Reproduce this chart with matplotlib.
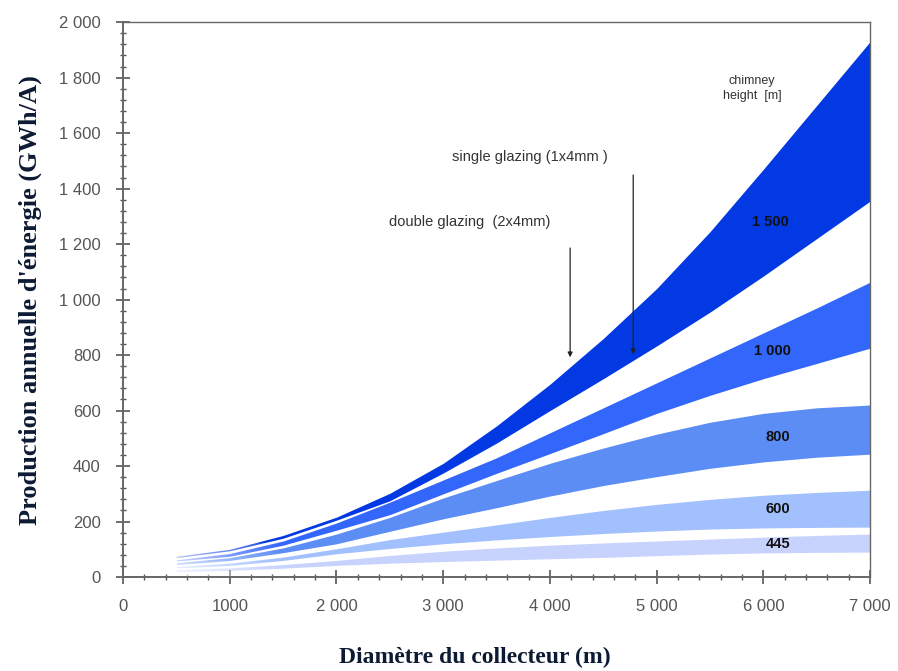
import matplotlib
matplotlib.use("Agg")
import matplotlib.pyplot as plt
import numpy as np
from matplotlib.ticker import MultipleLocator, FixedLocator

# collector diameter (m)
diameter = [500, 1000, 1500, 2000, 2500, 3000, 3500, 4000, 4500, 5000, 5500, 6000, 6500, 7000]

# annual energy (GWh/A) - upper edge = double glazing, lower edge = single glazing
h1500_up = [75, 100, 150, 216, 302, 410, 545, 695, 860, 1040, 1245, 1470, 1700, 1930]
h1500_lo = [70, 95, 140, 205, 275, 375, 483, 600, 715, 833, 955, 1085, 1220, 1355]
h1000_up = [62, 85, 130, 195, 270, 350, 430, 520, 610, 700, 790, 880, 970, 1063]
h1000_lo = [58, 75, 115, 169, 225, 300, 374, 445, 517, 590, 655, 715, 770, 825]
h800_up = [52, 70, 105, 155, 215, 285, 348, 410, 465, 515, 558, 590, 610, 620]
h800_lo = [45, 60, 88, 120, 165, 210, 250, 292, 330, 362, 392, 415, 432, 443]
h600_up = [38, 50, 72, 102, 135, 162, 188, 215, 240, 262, 280, 295, 305, 313]
h600_lo = [33, 42, 60, 84, 103, 120, 134, 146, 157, 166, 173, 177, 179, 180]
h445_up = [27, 33, 45, 60, 78, 93, 105, 115, 123, 130, 137, 144, 150, 155]
h445_lo = [20, 24, 32, 42, 50, 56, 61, 66, 71, 77, 83, 87, 89, 90]

bands = [
    ("1 500", h1500_lo, h1500_up, "#0339e3"),
    ("1 000", h1000_lo, h1000_up, "#3366fb"),
    ("800", h800_lo, h800_up, "#5b8df5"),
    ("600", h600_lo, h600_up, "#a2c0fd"),
    ("445", h445_lo, h445_up, "#c8d3fd"),
]
label_pos = {"1 500": (6064, 1279), "1 000": (6083, 814), "800": (6139, 505),
             "600": (6139, 245), "445": (6139, 119)}

xticks = [0, 1000, 2000, 3000, 4000, 5000, 6000, 7000]
xticklabels = ["0", "1000", "2 000", "3 000", "4 000", "5 000", "6 000", "7 000"]
yticks = [0, 200, 400, 600, 800, 1000, 1200, 1400, 1600, 1800, 2000]
yticklabels = ["0", "200", "400", "600", "800", "1 000", "1 200", "1 400", "1 600", "1 800", "2 000"]

fig = plt.figure(figsize=(8.98, 6.71), dpi=100)
ax = fig.add_axes([0.137, 0.140, 0.832, 0.827])

for name, lo, up, col in bands:
    ax.fill_between(diameter, lo, up, color=col, linewidth=0)
    lx, ly = label_pos[name]
    ax.text(lx, ly, name, fontsize=10.5, fontweight="bold", color="#111111",
            ha="center", va="center", family="Liberation Sans")

# pale fade at the start of the bands
fade = np.ones((2, 64, 4))
fade[..., 3] = np.linspace(0.75, 0.0, 64)[None, :]
ax.imshow(fade, extent=(480, 1500, 0, 120), aspect="auto", zorder=2,
          interpolation="bilinear")

ax.set_xlim(0, 7000)
ax.set_ylim(0, 2000)
ax.xaxis.set_major_locator(FixedLocator(xticks))
ax.set_xticklabels(xticklabels)
ax.yaxis.set_major_locator(FixedLocator(yticks))
ax.set_yticklabels(yticklabels)
ax.xaxis.set_minor_locator(MultipleLocator(200))
ax.yaxis.set_minor_locator(MultipleLocator(40))

ax.tick_params(which="major", direction="inout", length=10, width=1.2, color="#555555",
               labelsize=12, labelcolor="#555555", pad=11)
ax.tick_params(which="minor", direction="inout", length=5, width=1, color="#555555")
for lab in ax.get_xticklabels() + ax.get_yticklabels():
    lab.set_family("Liberation Sans")
for s in ax.spines.values():
    s.set_color("#666666")
    s.set_linewidth(1.0)
ax.spines["left"].set_linewidth(1.4)
ax.spines["bottom"].set_linewidth(1.4)

# annotations
ax.text(5895, 1762, "chimney\nheight  [m]", fontsize=9, color="#333333",
        ha="center", va="center", family="Liberation Sans", linespacing=1.3)
ax.text(3814, 1514, "single glazing (1x4mm )", fontsize=10.5, color="#333333",
        ha="center", va="center", family="Liberation Sans")
ax.text(3252, 1279, "double glazing  (2x4mm)", fontsize=10.5, color="#333333",
        ha="center", va="center", family="Liberation Sans")
ax.annotate("", xy=(4189, 782), xytext=(4189, 1196),
            arrowprops=dict(arrowstyle="-|>", color="#222222", lw=0.9, mutation_scale=7))
ax.annotate("", xy=(4780, 793), xytext=(4780, 1459),
            arrowprops=dict(arrowstyle="-|>", color="#222222", lw=0.9, mutation_scale=7))

ax.set_xlabel("Diamètre du collecteur (m)", fontsize=17, fontweight="bold",
              color="#0d1a33", family="Liberation Serif")
ax.xaxis.set_label_coords(0.471, -0.125)
ax.set_ylabel("Production annuelle d'énergie (GWh/A)", fontsize=19, fontweight="bold",
              color="#0d1a33", family="Liberation Serif")
ax.yaxis.set_label_coords(-0.108, 0.50)

fig.savefig("out.png", dpi=100, facecolor="white")
